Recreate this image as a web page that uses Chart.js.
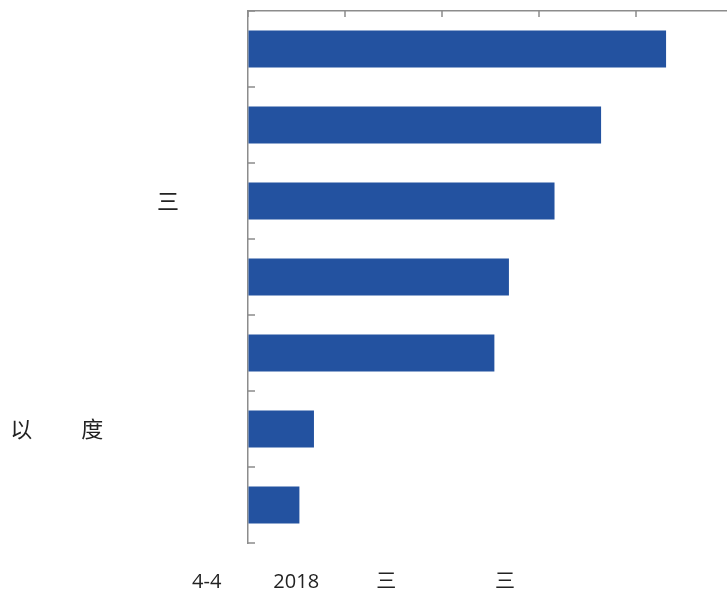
<!DOCTYPE html>
<html>
<head>
<meta charset="utf-8">
<script src="https://cdn.jsdelivr.net/npm/chart.js@4/dist/chart.umd.min.js"></script>
<style>
  html, body { margin: 0; padding: 0; background: #fff; overflow: hidden; }
  #wrap { width: 727px; height: 594px; overflow: hidden; }
</style>
</head>
<body>
<div id="wrap"><canvas id="barChart" width="733" height="594"></canvas></div>
<script>
const NB = '\u00a0';
const IS = '\u3000';

// categories (top to bottom) and values
const categories = ['', '', '三', '', '', '以' + IS + IS + NB + '度' + IS + IS + IS + NB + NB, ''];
const values = [4.31, 3.64, 3.16, 2.69, 2.54, 0.68, 0.53];
const xTicks = [0, 1, 2, 3, 4, 5];
const bottomLabels = ['4-4', '2018', '三', '三'];
const bottomGaps = [10, 11, 19];

const axisColor = '#8c8c8c';
const barColor = '#2352a0';

let bottomText = bottomLabels[0];
for (let i = 1; i < bottomLabels.length; i++) bottomText += NB.repeat(bottomGaps[i - 1]) + bottomLabels[i];
bottomText += NB.repeat(5);

// tick marks pointing into the plot area
const innerTicks = {
    id: 'innerTicks',
    afterDraw(chart) {
        const { ctx, scales: { x, y } } = chart;
        ctx.save();
        ctx.strokeStyle = axisColor;
        ctx.lineWidth = 1.5;
        ctx.beginPath();
        x.ticks.forEach((t, i) => {
            const px = x.getPixelForTick(i);
            ctx.moveTo(px, x.bottom);
            ctx.lineTo(px, x.bottom + 6);
        });
        const step = y.getPixelForTick(1) - y.getPixelForTick(0);
        for (let i = 0; i <= y.ticks.length; i++) {
            const py = y.getPixelForTick(0) - step / 2 + i * step;
            ctx.moveTo(y.right, py);
            ctx.lineTo(y.right + 7, py);
        }
        ctx.stroke();
        ctx.restore();
    }
};

new Chart(document.getElementById('barChart'), {
    type: 'bar',
    data: {
        labels: categories,
        datasets: [{
            data: values,
            backgroundColor: barColor,
            borderWidth: 0,
            categoryPercentage: 1,
            barPercentage: 0.49
        }]
    },
    options: {
        indexAxis: 'y',
        responsive: false,
        animation: false,
        layout: { padding: { top: 11, left: 0, right: 0, bottom: 0 } },
        plugins: {
            legend: { display: false },
            tooltip: { enabled: false },
            title: {
                display: true,
                position: 'bottom',
                text: bottomText,
                color: '#222',
                font: { family: "'Open Sans', 'Noto Sans CJK SC', sans-serif", size: 20, weight: 'normal' },
                padding: { top: 27, bottom: 0 }
            }
        },
        scales: {
            x: {
                position: 'top',
                min: xTicks[0],
                max: xTicks[xTicks.length - 1],
                afterBuildTicks: scale => { scale.ticks = xTicks.map(v => ({ value: v })); },
                ticks: { display: false },
                grid: { drawOnChartArea: false, drawTicks: false },
                border: { color: axisColor, width: 1.5 }
            },
            y: {
                afterFit: scale => {
                    scale.width = 248;
                    scale.paddingTop = 0;
                    scale.paddingBottom = 0;
                },
                ticks: {
                    color: '#222',
                    padding: 69,
                    font: { family: "'Noto Sans CJK SC', sans-serif", size: 22 }
                },
                grid: { drawOnChartArea: false, drawTicks: false },
                border: { color: axisColor, width: 1.5 }
            }
        }
    },
    plugins: [innerTicks]
});
</script>
</body>
</html>
